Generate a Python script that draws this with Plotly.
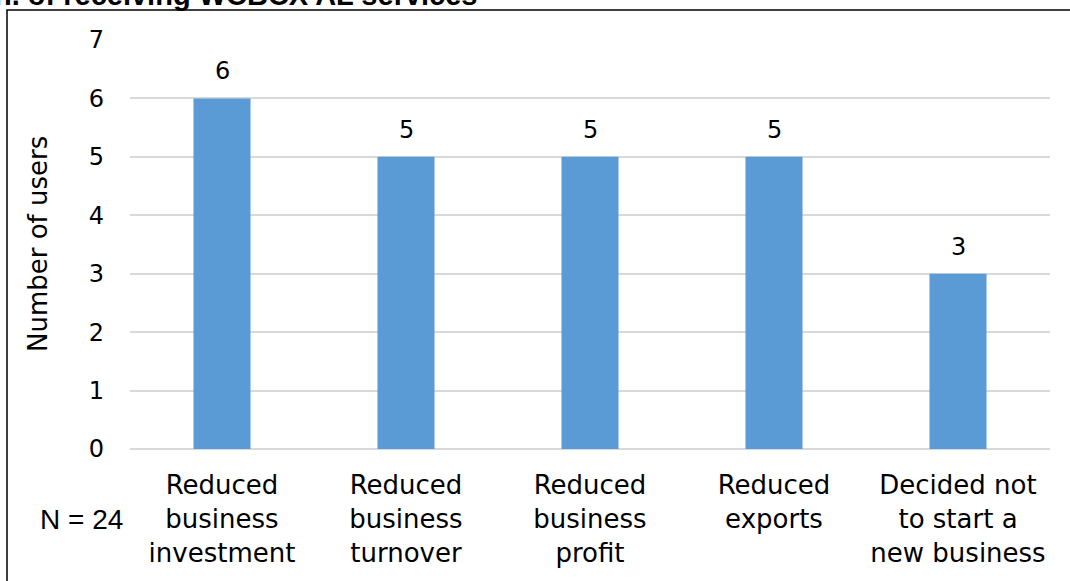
import plotly.graph_objects as go

# Data
categories = [
    "Reduced<br>business<br>investment",
    "Reduced<br>business<br>turnover",
    "Reduced<br>business<br>profit",
    "Reduced<br>exports",
    "Decided not<br>to start a<br>new business",
]
users = [6, 5, 5, 5, 3]
y_ticks = [0, 1, 2, 3, 4, 5, 6, 7]
sample_note = "N = 24"
axis_title = "Number of users"
title_text = "n. of receiving WCBCX AL services"

BAR_COLOR = "#5B9BD5"
GRID_COLOR = "#D9D9D9"
FONT = "DejaVu Sans"

W, H = 1070, 581
L, R, T, B = 130, 20, 40, 132
PW, PH = W - L - R, H - T - B


def px_x(px):
    return (px - L) / PW


def px_y(py):
    return (H - B - py) / PH


fig = go.Figure()
fig.add_trace(go.Bar(
    x=categories,
    y=users,
    marker=dict(color=BAR_COLOR, line=dict(width=0)),
    width=0.31,
    hoverinfo="x+y",
))

annotations = []
# value labels above each bar
for c, v in zip(categories, users):
    annotations.append(dict(
        x=c, y=v, xref="x", yref="y", text=str(v), showarrow=False,
        yanchor="middle", yshift=27,
        font=dict(family=FONT, size=24, color="#000000"),
    ))

# y-axis title
annotations.append(dict(
    x=px_x(38), y=px_y(244), xref="paper", yref="paper",
    text=axis_title, textangle=-90, showarrow=False,
    xanchor="center", yanchor="middle",
    font=dict(family=FONT, size=26, color="#000000"),
))

# sample size note
annotations.append(dict(
    x=px_x(81), y=px_y(519), xref="paper", yref="paper",
    text=sample_note, showarrow=False,
    xanchor="center", yanchor="middle",
    font=dict(family="Liberation Sans", size=28, color="#000000"),
))

# chart title, running off the top edge
annotations.append(dict(
    x=px_x(479), y=px_y(-5), xref="paper", yref="paper",
    text="<b>" + title_text + "</b>", showarrow=False,
    xanchor="right", yanchor="middle",
    font=dict(family="Liberation Sans", size=29, color="#000000"),
))

# outer frame
shapes = [dict(
    type="rect", xref="paper", yref="paper",
    x0=px_x(7), x1=px_x(W + 20), y0=px_y(H + 20), y1=px_y(10),
    line=dict(color="#000000", width=1.5), fillcolor="rgba(0,0,0,0)",
    layer="below",
)]

fig.update_layout(
    width=W, height=H,
    margin=dict(l=L, r=R, t=T, b=B),
    paper_bgcolor="#FFFFFF", plot_bgcolor="#FFFFFF",
    showlegend=False,
    bargap=0.69,
    annotations=annotations,
    shapes=shapes,
    font=dict(family=FONT, color="#000000"),
    xaxis=dict(
        showgrid=False, showline=False, zeroline=False, ticks="",
        tickfont=dict(family=FONT, size=26, color="#000000"),
        ticklabelstandoff=18,
        range=[-0.5, 4.5],
    ),
    yaxis=dict(
        range=[0, 7], tickvals=y_ticks, ticktext=[str(t) for t in y_ticks],
        showgrid=True, gridcolor=GRID_COLOR, gridwidth=1.5,
        zeroline=True, zerolinecolor=GRID_COLOR, zerolinewidth=1.5,
        showline=False, ticks="",
        tickfont=dict(family=FONT, size=24, color="#000000"),
        ticklabelstandoff=25,
    ),
)

fig.write_html("out.html")
